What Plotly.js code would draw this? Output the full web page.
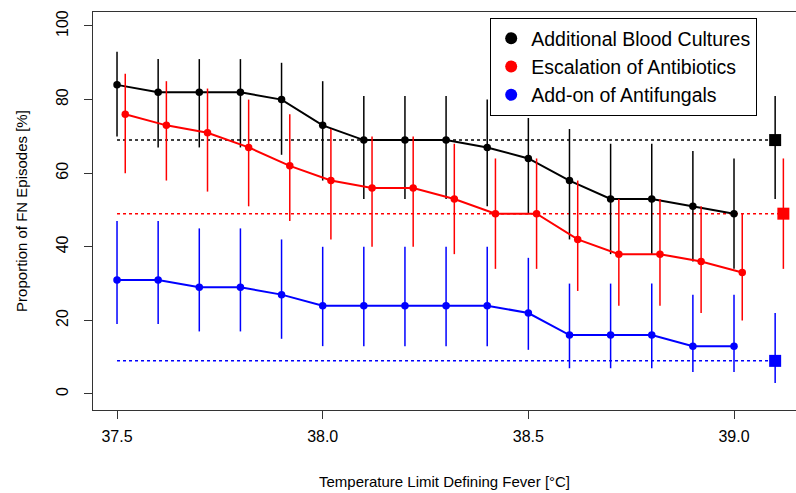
<!DOCTYPE html>
<html>
<head>
<meta charset="utf-8">
<script src="https://cdn.plot.ly/plotly-3.0.1.min.js"></script>
<style>html,body{margin:0;padding:0;background:#fff;}#chart{width:796px;height:493px;}</style>
</head>
<body>
<div id="chart"></div>
<script>
// Temperature limits (x)
const temps = [37.5,37.6,37.7,37.8,37.9,38.0,38.1,38.2,38.3,38.4,38.5,38.6,38.7,38.8,38.9,39.0];
const redOffset = 0.02;

// Additional Blood Cultures (black)
const bloodVal = [84,82,82,82,80,73,69,69,69,67,64,58,53,53,51,49];
const bloodLo  = [70,67,67,67,65,58,53,53,53,51,49,42,38,38,36,34];
const bloodHi  = [93,91,91,91,90,85,81,81,81,80,75,72,68,68,66,64];

// Escalation of Antibiotics (red)
const abxVal = [76,73,71,67,62,58,56,56,53,49,49,42,38,38,36,33];
const abxLo  = [60,58,55,51,47,42,40,40,38,34,34,28,24,24,22,20];
const abxHi  = [87,85,83,80,76,72,70,70,68,64,64,58,53,53,51,49];

// Add-on of Antifungals (blue)
const afVal = [31,31,29,29,27,24,24,24,24,24,22,16,16,16,13,13];
const afLo  = [19,19,17,17,15,13,13,13,13,13,12,7,7,7,6,6];
const afHi  = [47,47,45,45,42,40,40,40,40,40,37,30,30,30,27,27];

// Reference values (squares + dotted lines)
const refX   = [39.1, 39.12, 39.1];
const refVal = [69, 49, 9];
const refLo  = [53, 34, 3];
const refHi  = [81, 64, 22];

const names  = ["Additional Blood Cultures","Escalation of Antibiotics","Add-on of Antifungals"];
const colors = ["#000000","#ff0000","#0000ff"];

function errs(v, lo, hi){
  return {type:'data', symmetric:false,
    array: v.map((d,i)=>hi[i]-d), arrayminus: v.map((d,i)=>d-lo[i]),
    width:0, thickness:1.5};
}

const series = [
  {x: temps, y: bloodVal, lo: bloodLo, hi: bloodHi},
  {x: temps.map(t=>t+redOffset), y: abxVal, lo: abxLo, hi: abxHi},
  {x: temps, y: afVal, lo: afLo, hi: afHi}
];

const traces = [];
series.forEach((s,k)=>{
  traces.push({x:[temps[0], refX[k]], y:[refVal[k], refVal[k]], mode:'lines',
    line:{color:colors[k], width:1.5, dash:'dot'}, showlegend:false, hoverinfo:'skip'});
});
series.forEach((s,k)=>{
  const e = errs(s.y, s.lo, s.hi); e.color = colors[k];
  traces.push({x:s.x, y:s.y, mode:'lines+markers', error_y:e,
    line:{color:colors[k], width:2}, marker:{color:colors[k], size:7.5, symbol:'circle'},
    showlegend:false});
  const re = errs([refVal[k]],[refLo[k]],[refHi[k]]); re.color = colors[k];
  traces.push({x:[refX[k]], y:[refVal[k]], mode:'markers', error_y:re,
    marker:{color:colors[k], size:12, symbol:'square'}, showlegend:false});
});
names.forEach((n,k)=>{
  traces.push({x:[null], y:[null], mode:'markers', name:n,
    marker:{color:colors[k], size:12, symbol:'circle'}, showlegend:true});
});

const fontFam = 'Arial, "Liberation Sans", sans-serif';
const layout = {
  width:796, height:493,
  margin:{l:93, r:0, t:12, b:83},
  paper_bgcolor:'#fff', plot_bgcolor:'#fff',
  font:{family:fontFam, size:15, color:'#000'},
  showlegend:true,
  legend:{x:0.565, y:0.985, xanchor:'left', yanchor:'top',
    bgcolor:'#fff', bordercolor:'#000', borderwidth:1,
    font:{family:fontFam, size:19.5, color:'#000'}, tracegroupgap:0},
  xaxis:{range:[37.4416, 39.1507], tickvals:[37.5,38.0,38.5,39.0], ticktext:['37.5','38.0','38.5','39.0'],
    ticks:'outside', ticklen:8, tickcolor:'#333', showgrid:false, zeroline:false,
    showline:true, linecolor:'#333', linewidth:1, mirror:true, ticklabelstandoff:4,
    tickfont:{family:fontFam, size:16},
    title:{text:'Temperature Limit Defining Fever [°C]', font:{family:fontFam, size:15}, standoff:32}},
  yaxis:{range:[-4.35, 103.8], tickvals:[0,20,40,60,80,100],
    ticks:'outside', ticklen:8, tickcolor:'#333', showgrid:false, zeroline:false,
    showline:true, linecolor:'#333', linewidth:1, mirror:true, tickangle:-90, ticklabelstandoff:10,
    tickfont:{family:fontFam, size:16},
    title:{text:'Proportion of FN Episodes [%]', font:{family:fontFam, size:15}, standoff:22}}
};

Plotly.newPlot('chart', traces, layout, {displayModeBar:false, staticPlot:true});
</script>
</body>
</html>
